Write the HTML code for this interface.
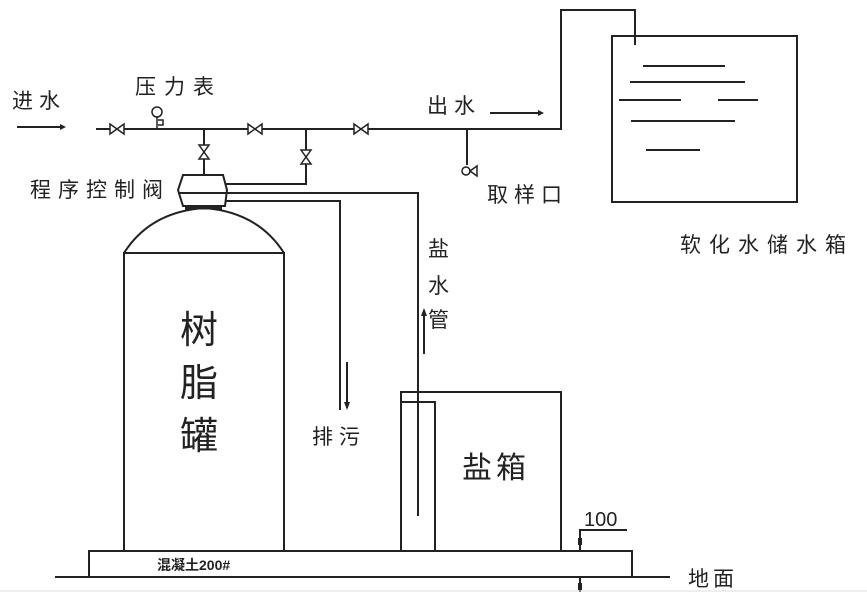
<!DOCTYPE html>
<html><head><meta charset="utf-8"><style>
html,body{margin:0;padding:0;background:#fff;}
svg{display:block;}
text{font-family:"Liberation Sans","Noto Sans CJK SC",sans-serif;fill:#222;}
</style></head><body>
<svg width="867" height="616" viewBox="0 0 867 616" xmlns="http://www.w3.org/2000/svg">
<g stroke="#222" stroke-width="2" fill="none">
<polyline points="96,129 561,129 561,10 635,10 635,45"/>
<rect x="612" y="36" width="185" height="166"/>
<line x1="643" y1="66" x2="725" y2="66"/>
<line x1="630" y1="82" x2="745" y2="82"/>
<line x1="619" y1="100" x2="681" y2="100"/>
<line x1="718" y1="100" x2="758" y2="100"/>
<line x1="631" y1="121" x2="735" y2="121"/>
<line x1="646" y1="150" x2="700" y2="150"/>
<line x1="204" y1="129" x2="204" y2="175"/>
<polyline points="306,129 306,184 226,184"/>
<polyline points="227,193 418,193 418,516"/>
<polyline points="224,201 340,201 340,410"/>
<line x1="467" y1="129" x2="467" y2="165"/>
<path d="M124,253 Q150,212 204,208 Q258,212 284,253"/>
<rect x="124" y="253" width="160" height="298"/>
<path d="M183,175 L223,175 L227,190 L225,206 L183,206 L178,190 Z" fill="#fff"/>
<line x1="178" y1="193" x2="227" y2="193"/>
<line x1="185" y1="208" x2="222" y2="208" stroke-width="3"/>
<rect x="401" y="392" width="160" height="159"/>
<polyline points="401,402 435,402 435,551"/>
<rect x="89" y="551" width="543" height="26"/>
<line x1="55" y1="577" x2="670" y2="577"/>
<polyline points="580,551 580,530 627,530"/>
<line x1="580" y1="577" x2="580" y2="592"/>
<line x1="17" y1="127" x2="60" y2="127"/>
<line x1="490" y1="113" x2="538" y2="113"/>
<line x1="347" y1="362" x2="347" y2="408"/>
<line x1="424" y1="354" x2="424" y2="310"/>
</g>
<g fill="#222">
<polygon points="60,124 66,127 60,130"/>
<polygon points="538,110 544,113 538,116"/>
<polygon points="344,402 347,410 350,402"/>
<polygon points="421,316 424,308 427,316"/>
<rect x="578" y="538" width="4" height="7"/>
<rect x="578" y="583" width="4" height="7"/>
</g>
<g stroke="#222" stroke-width="1.5" fill="#fff">
<path d="M110,124 L110,134 L124,124 L124,134 Z"/>
<path d="M248,124 L248,134 L262,124 L262,134 Z"/>
<path d="M354,124 L354,134 L368,124 L368,134 Z"/>
<path d="M199,145 L209,145 L199,159 L209,159 Z"/>
<path d="M301,150 L311,150 L301,164 L311,164 Z"/>
<circle cx="157" cy="112" r="5"/>
<line x1="157" y1="117" x2="157" y2="129"/>
<path d="M158,120 L163,120 L163,125 L158,125"/>
<circle cx="466" cy="171" r="4"/>
<path d="M470,171 L477,166 L477,176 Z"/>
</g>
<line x1="0" y1="591" x2="867" y2="591" stroke="#ddd" stroke-width="1"/>
<text x="12" y="108" font-size="21" letter-spacing="6">进水</text>
<text x="135" y="94" font-size="21" letter-spacing="8">压力表</text>
<text x="427" y="113" font-size="21" letter-spacing="6">出水</text>
<text x="487" y="202" font-size="21" letter-spacing="6">取样口</text>
<text x="680" y="252" font-size="21" letter-spacing="8">软化水储水箱</text>
<text x="30" y="197" font-size="21" letter-spacing="7">程序控制阀</text>
<text x="180" y="343" font-size="38">树</text>
<text x="180" y="396" font-size="38">脂</text>
<text x="180" y="449" font-size="38">罐</text>
<text x="312" y="444" font-size="21" letter-spacing="6">排污</text>
<text x="428" y="256" font-size="21">盐</text>
<text x="428" y="293" font-size="21">水</text>
<text x="428" y="327" font-size="21">管</text>
<text x="462" y="478" font-size="30" letter-spacing="4">盐箱</text>
<text x="157" y="570" font-size="14" font-weight="bold">混凝土200#</text>
<text x="584" y="526" font-size="20">100</text>
<text x="688" y="586" font-size="21" letter-spacing="4">地面</text>
</svg>
</body></html>
